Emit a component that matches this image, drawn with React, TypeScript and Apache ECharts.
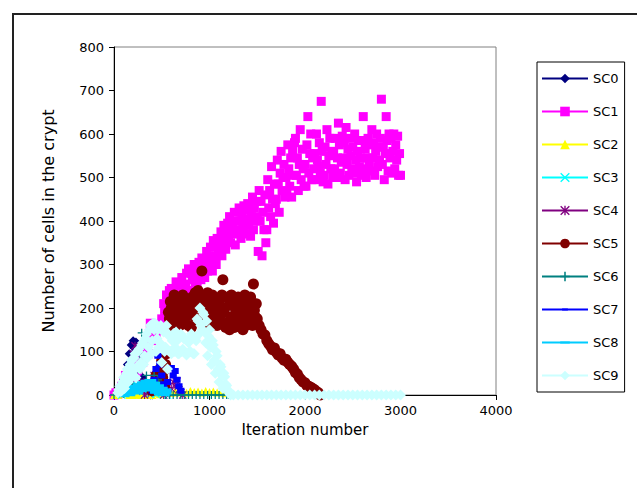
import React, { useEffect, useRef } from "react";
import * as echarts from "echarts";

type P = [number, number];

const seriesNames = ["SC0", "SC1", "SC2", "SC3", "SC4", "SC5", "SC6", "SC7", "SC8", "SC9"];
const seriesColors = ["#000080", "#FF00FF", "#FFFF00", "#00FFFF", "#800080", "#800000", "#008080", "#0000FF", "#00CCFF", "#CCFFFF"];
const xTicks = { min: 0, max: 4000, interval: 1000 };
const yTicks = { min: 0, max: 800, interval: 100 };

const sc0: P[] = [[0,0],[20,2],[40,5],[60,10],[80,18],[100,28],[120,45],[140,70],[160,95],[180,115],[200,125],[210,108],[220,100],[230,122],[240,118],[260,92],[280,65],[300,40],[320,22],[340,10],[360,4],[380,0],[400,0]];

const sc1: P[] = [
  [0,0],[20,5],[40,2],[60,12],[80,20],[100,30],[120,45],[140,25],[160,50],[180,40],
  [200,60],[220,70],[240,55],[260,80],[280,90],[300,75],[320,100],[340,110],[360,95],[380,165],
  [400,125],[420,145],[440,130],[460,160],[480,150],
  [500,175],[510,150],[520,210],[530,190],[540,160],[550,230],[560,200],[570,170],[580,240],[590,185],
  [600,245],[610,185],[620,215],[630,200],[640,220],[650,260],[660,230],[670,205],[680,250],[690,190],
  [700,235],[710,270],[720,210],[730,250],[740,225],[750,255],[760,280],[770,240],[780,290],[790,215],
  [800,240],[810,280],[820,265],[830,230],[840,300],[850,255],[860,285],[870,245],[880,275],[890,305],
  [900,290],[910,265],[920,315],[930,280],[940,300],[950,270],[960,305],[970,330],[980,285],[990,320],
  [1000,295],[1010,340],[1020,310],[1030,285],[1040,355],[1050,320],[1060,345],[1070,300],[1080,360],[1090,330],
  [1100,350],[1110,330],[1120,375],[1130,320],[1140,345],[1150,390],[1160,360],[1170,335],[1180,380],[1190,395],
  [1200,360],[1210,410],[1220,350],[1230,385],[1240,395],[1250,370],[1260,420],[1270,345],[1280,400],[1290,380],
  [1300,375],[1310,430],[1320,400],[1330,360],[1340,415],[1350,385],[1360,435],[1370,370],[1380,405],[1390,390],
  [1400,440],[1410,390],[1420,425],[1430,365],[1440,410],[1450,455],[1460,380],[1470,430],[1480,400],[1490,445],
  [1500,410],[1510,330],[1520,470],[1530,400],[1540,445],[1550,320],[1560,420],[1570,380],[1580,460],[1590,350],
  [1600,380],[1610,495],[1620,430],[1630,470],[1640,410],[1650,525],[1660,450],[1670,395],[1680,485],[1690,440],
  [1700,450],[1710,540],[1720,485],[1730,420],[1740,510],[1750,560],[1760,470],[1770,500],[1780,530],[1790,455],
  [1800,500],[1810,465],[1820,575],[1830,520],[1840,480],[1850,545],[1860,455],[1870,560],[1880,505],[1890,580],
  [1900,590],[1910,505],[1920,545],[1930,470],[1940,530],[1950,610],[1960,495],[1970,565],[1980,520],[1990,480],
  [2000,530],[2010,480],[2020,575],[2030,640],[2040,510],[2050,555],[2060,600],[2070,495],[2080,545],[2090,520],
  [2100,555],[2110,495],[2120,600],[2130,540],[2140,525],[2150,580],[2160,510],[2170,675],[2180,560],[2190,490],
  [2200,505],[2210,570],[2220,530],[2230,610],[2240,485],[2250,550],[2260,590],[2270,520],[2280,560],[2290,500],
  [2300,560],[2310,520],[2320,590],[2330,500],[2340,545],[2350,625],[2360,575],[2370,510],[2380,535],[2390,595],
  [2400,545],[2410,580],[2420,495],[2430,615],[2440,530],[2450,565],[2460,505],[2470,590],[2480,550],[2490,520],
  [2500,570],[2510,510],[2520,600],[2530,540],[2540,490],[2550,560],[2560,585],[2570,525],[2580,545],[2590,505],
  [2600,585],[2610,640],[2620,520],[2630,565],[2640,500],[2650,545],[2660,590],[2670,530],[2680,575],[2690,515],
  [2700,610],[2710,545],[2720,580],[2730,505],[2740,560],[2750,600],[2760,525],[2770,570],[2780,540],[2790,590],
  [2800,680],[2810,530],[2820,570],[2830,495],[2840,555],[2850,640],[2860,585],[2870,515],[2880,600],[2890,545],
  [2900,590],[2910,510],[2920,560],[2930,600],[2940,520],[2950,575],[2960,540],[2970,595],[2980,505],[2990,555],
  [3000,505]
];

const sc2: P[] = [[0,0],[40,0],[80,3],[100,8],[120,55],[140,15],[160,0],[200,0],[240,2],[280,0],[320,0],[360,3],[400,0],[440,5],[480,2],[520,6],[560,8],[600,5],[640,9],[680,6],[720,8],[760,5],[800,9],[840,7],[880,8],[920,6],[960,9],[1000,7],[1040,8],[1080,6],[1120,7],[1160,4]];

const sc3: P[] = [[80,0],[100,5],[120,15],[140,40],[160,60],[180,45],[200,25],[220,15],[240,20],[260,10],[280,18],[300,8],[320,15],[340,5],[360,12],[380,3],[400,8],[440,2],[480,5],[520,0],[560,0]];

const sc4: P[] = [[140,10],[160,40],[180,70],[200,95],[220,113],[240,88],[260,60],[280,30],[300,10],[320,0],[360,5],[380,15],[400,25],[420,45],[440,30],[460,55],[480,25],[500,10],[520,0],[560,5],[600,15],[620,30],[640,20],[660,32],[680,12],[700,5],[720,0]];

const sc5: P[] = [
  [400,10],[420,25],[440,45],[460,30],[480,60],
  [500,80],[510,40],[520,55],[530,20],[540,70],[550,95],[560,150],[570,190],[580,175],[590,215],
  [600,200],[610,165],[620,185],[630,230],[640,220],[650,175],[660,170],[670,210],[680,205],[690,160],
  [700,190],[710,225],[720,230],[730,165],[740,175],[750,215],[760,210],[770,185],[780,160],[790,200],
  [800,195],[810,155],[820,225],[830,205],[840,180],[850,235],[860,215],[870,170],[880,240],[890,190],
  [900,200],[910,230],[920,285],[930,175],[940,220],[950,160],[960,190],[970,215],[980,235],[990,185],
  [1000,210],[1010,160],[1020,175],[1030,230],[1040,225],[1050,185],[1060,195],[1070,220],[1080,160],[1090,205],
  [1100,215],[1110,170],[1120,185],[1130,230],[1140,265],[1150,195],[1160,200],[1170,155],[1180,165],[1190,225],
  [1200,220],[1210,150],[1220,180],[1230,230],[1240,205],[1250,175],[1260,155],[1270,215],[1280,195],[1290,160],
  [1300,225],[1310,185],[1320,175],[1330,220],[1340,210],[1350,150],[1360,190],[1370,230],[1380,160],[1390,200],
  [1400,215],[1410,170],[1420,185],[1430,225],[1440,200],[1450,160],[1460,255],[1470,195],[1480,180],[1490,210],
  [1500,175],[1520,160],[1540,150],[1560,140],[1580,138],
  [1600,125],[1620,118],[1640,112],[1660,104],[1680,108],[1700,98],[1720,92],[1740,95],[1760,85],[1780,80],
  [1800,82],[1820,75],[1840,70],[1860,66],[1880,60],[1900,52],[1920,48],[1940,40],[1960,35],[1980,30],
  [2000,28],[2020,22],[2040,20],[2060,18],[2080,15],[2100,12],[2120,8],[2140,5],[2160,0]
];

const sc6: P[] = [[0,0],[100,3],[160,10],[200,25],[240,55],[270,95],[290,143],[310,85],[340,45],[380,25],[420,45],[440,20],[460,35],[480,15],[500,22],[520,8],[540,0],[580,0],[620,0],[660,0],[700,0],[740,0],[780,0],[820,0],[860,0],[900,0],[940,0],[980,0],[1020,0],[1060,0],[1100,0],[1140,0],[1180,0],[1200,0]];

const sc7: P[] = [[400,10],[420,35],[440,60],[460,90],[480,70],[500,45],[520,25],[540,10],[560,30],[580,140],[600,62],[620,45],[640,55],[660,35],[680,20],[700,10]];

const sc8: P[] = [[100,2],[120,5],[140,8],[160,4],[180,12],[200,10],[220,16],[240,8],[260,20],[280,14],[300,25],[320,18],[340,28],[360,22],[380,30],[400,15],[420,24],[440,10],[460,18],[480,6],[500,12],[520,4],[540,8]];

const sc9: P[] = [
  [40,5],[50,12],[60,20],[70,8],[80,10],[90,30],
  [100,40],[110,15],[120,25],[130,50],[140,60],[150,30],[160,35],[170,70],[180,80],[190,45],
  [200,55],[210,85],[220,95],[230,40],[240,65],[250,100],[260,105],[270,60],[280,75],[290,115],
  [300,120],[310,70],[320,90],[330,130],[340,140],[350,85],[360,110],[370,150],[380,160],[390,95],
  [400,125],[410,165],[420,150],[430,165],[440,100],[450,130],[460,150],[470,110],[480,120],[490,160],
  [500,75],[510,150],[520,145],[530,100],[540,110],[550,160],[560,60],[570,140],[580,135],[590,100],
  [600,95],[610,125],[620,140],[630,100],[640,110],[650,145],[660,125],[670,95],[680,95],[690,135],
  [700,140],[710,100],[720,105],[730,130],[740,130],[750,95],[760,92],[770,125],[780,120],[790,100],
  [800,100],[810,140],[820,135],[830,95],[840,95],[850,130],[860,125],[870,175],[880,170],[890,140],
  [900,200],[910,160],[920,150],[930,190],[940,185],[950,145],[960,120],[970,170],[980,90],[990,135],
  [1000,150],[1010,110],[1020,70],[1030,125],[1040,115],[1050,80],[1060,50],[1070,100],[1080,90],[1090,60],
  [1100,30],[1110,70],[1120,65],[1130,45],[1140,15],[1150,50],[1160,42],[1170,25],[1180,22],[1190,12],
  [1200,8],[1210,3],[1220,0],
  [1250,0],[1300,0],[1350,0],[1400,0],[1450,0],[1500,0],[1550,0],[1600,0],[1650,0],[1700,0],
  [1750,0],[1800,0],[1850,0],[1900,0],[1950,0],[2000,0],[2050,0],[2100,0],[2150,0],[2200,0],
  [2250,0],[2300,0],[2350,0],[2400,0],[2450,0],[2500,0],[2550,0],[2600,0],[2650,0],[2700,0],
  [2750,0],[2800,0],[2850,0],[2900,0],[2950,0],[3000,0]
];

const seriesData = [sc0, sc1, sc2, sc3, sc4, sc5, sc6, sc7, sc8, sc9];

const xPath = "path://M0,1L1,0L5,4L9,0L10,1L6,5L10,9L9,10L5,6L1,10L0,9L4,5Z";
const plusPath = "path://M4.2,0H5.8V4.2H10V5.8H5.8V10H4.2V5.8H0V4.2H4.2Z";
const starPath = "path://M0,1L1,0L5,4L9,0L10,1L6,5L10,9L9,10L5,6L1,10L0,9L4,5Z M4.3,0H5.7V10H4.3Z";
const shortDash = "path://M0,0L0.01,0L0,0.01Z M2,4H8V6H2Z M10,10L9.99,10L10,9.99Z";
const longDash = "path://M0,0L0.01,0L0,0.01Z M0,4H10V6H0Z M10,10L9.99,10L10,9.99Z";

const symbols = ["diamond", "rect", "triangle", xPath, starPath, "circle", plusPath, shortDash, longDash, "diamond"];
const symbolSizes: any[] = [9, 9, 8, 8, 8, 11, 8, [12, 30], [12, 30], 11];

const FONT = '"DejaVu Sans", Verdana, sans-serif';

export default function App() {
  const ref = useRef<HTMLDivElement>(null);
  useEffect(() => {
    if (!ref.current) return;
    const chart = echarts.init(ref.current, undefined, { renderer: "svg" });
    const series = seriesNames.map((name, i) => ({
      name,
      type: "line",
      data: seriesData[i],
      symbol: symbols[i],
      symbolSize: symbolSizes[i],
      showSymbol: true,
      showAllSymbol: true,
      lineStyle: { width: 0, color: seriesColors[i] },
      itemStyle: { color: seriesColors[i], borderWidth: 0 },
      emphasis: { disabled: true },
      silent: true,
      animation: false,
    }));
    chart.setOption({
      animation: false,
      backgroundColor: "#ffffff",
      graphic: [
        {
          type: "rect",
          shape: { x: 13, y: 14, width: 700, height: 600 },
          style: { fill: "none", stroke: "#222", lineWidth: 2 },
          silent: true,
          z: -10,
        },
      ],
      grid: {
        left: 114,
        top: 47,
        width: 382,
        height: 348,
        show: true,
        borderColor: "#808080",
        borderWidth: 1,
        backgroundColor: "transparent",
      },
      xAxis: {
        type: "value",
        min: xTicks.min,
        max: xTicks.max,
        interval: xTicks.interval,
        splitLine: { show: false },
        axisLine: { show: true, lineStyle: { color: "#000", width: 1 } },
        axisTick: { show: true, length: 5, lineStyle: { color: "#000" } },
        axisLabel: { color: "#000", fontSize: 13, fontFamily: FONT, margin: 9, formatter: (v: number) => String(v) },
        name: "Iteration number",
        nameLocation: "middle",
        nameGap: 27,
        nameTextStyle: { color: "#000", fontSize: 15, fontFamily: FONT },
      },
      yAxis: {
        type: "value",
        min: yTicks.min,
        max: yTicks.max,
        interval: yTicks.interval,
        splitLine: { show: false },
        axisLine: { show: true, lineStyle: { color: "#000", width: 1 } },
        axisTick: { show: true, length: 5, lineStyle: { color: "#000" } },
        axisLabel: { color: "#000", fontSize: 13, fontFamily: FONT, margin: 10, formatter: (v: number) => String(v) },
        name: "Number of cells in the crypt",
        nameLocation: "middle",
        nameGap: 58,
        nameRotate: 90,
        nameTextStyle: { color: "#000", fontSize: 16, fontFamily: FONT },
      },
      legend: {
        orient: "vertical",
        left: 537,
        top: 62,
        padding: [10, 6, 10, 4],
        itemWidth: 46,
        itemHeight: 12,
        itemGap: 20,
        borderColor: "#000",
        borderWidth: 1,
        selectedMode: false,
        textStyle: { color: "#000", fontSize: 13, fontFamily: FONT },
        lineStyle: { width: 2 },
        data: seriesNames,
      },
      series,
    } as any);
    return () => chart.dispose();
  }, []);
  return <div ref={ref} style={{ position: "fixed", left: 0, top: 0, width: 637, height: 488 }} />;
}
